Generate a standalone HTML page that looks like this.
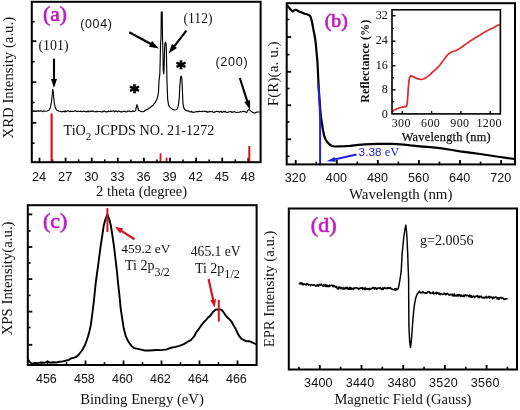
<!DOCTYPE html>
<html><head><meta charset="utf-8"><style>
html,body{margin:0;padding:0;background:#fff;}
body{width:520px;height:410px;overflow:hidden;}
svg{display:block;will-change:transform;filter:blur(0.35px);}
</style></head><body>
<svg width="520" height="410" viewBox="0 0 520 410" font-family='"Liberation Serif", serif'>
<rect width="520" height="410" fill="#fff"/>
<line x1="39.50" y1="162.20" x2="39.50" y2="157.70" stroke="#000" stroke-width="1.8" stroke-linecap="butt"/>
<line x1="65.60" y1="162.20" x2="65.60" y2="157.70" stroke="#000" stroke-width="1.8" stroke-linecap="butt"/>
<line x1="91.70" y1="162.20" x2="91.70" y2="157.70" stroke="#000" stroke-width="1.8" stroke-linecap="butt"/>
<line x1="117.80" y1="162.20" x2="117.80" y2="157.70" stroke="#000" stroke-width="1.8" stroke-linecap="butt"/>
<line x1="143.90" y1="162.20" x2="143.90" y2="157.70" stroke="#000" stroke-width="1.8" stroke-linecap="butt"/>
<line x1="170.00" y1="162.20" x2="170.00" y2="157.70" stroke="#000" stroke-width="1.8" stroke-linecap="butt"/>
<line x1="196.10" y1="162.20" x2="196.10" y2="157.70" stroke="#000" stroke-width="1.8" stroke-linecap="butt"/>
<line x1="222.20" y1="162.20" x2="222.20" y2="157.70" stroke="#000" stroke-width="1.8" stroke-linecap="butt"/>
<line x1="248.30" y1="162.20" x2="248.30" y2="157.70" stroke="#000" stroke-width="1.8" stroke-linecap="butt"/>
<line x1="52.55" y1="162.20" x2="52.55" y2="159.40" stroke="#000" stroke-width="1.6" stroke-linecap="butt"/>
<line x1="78.65" y1="162.20" x2="78.65" y2="159.40" stroke="#000" stroke-width="1.6" stroke-linecap="butt"/>
<line x1="104.75" y1="162.20" x2="104.75" y2="159.40" stroke="#000" stroke-width="1.6" stroke-linecap="butt"/>
<line x1="130.85" y1="162.20" x2="130.85" y2="159.40" stroke="#000" stroke-width="1.6" stroke-linecap="butt"/>
<line x1="156.95" y1="162.20" x2="156.95" y2="159.40" stroke="#000" stroke-width="1.6" stroke-linecap="butt"/>
<line x1="183.05" y1="162.20" x2="183.05" y2="159.40" stroke="#000" stroke-width="1.6" stroke-linecap="butt"/>
<line x1="209.15" y1="162.20" x2="209.15" y2="159.40" stroke="#000" stroke-width="1.6" stroke-linecap="butt"/>
<line x1="235.25" y1="162.20" x2="235.25" y2="159.40" stroke="#000" stroke-width="1.6" stroke-linecap="butt"/>
<line x1="31.80" y1="41.20" x2="36.30" y2="41.20" stroke="#000" stroke-width="1.8" stroke-linecap="butt"/>
<line x1="31.80" y1="82.20" x2="36.30" y2="82.20" stroke="#000" stroke-width="1.8" stroke-linecap="butt"/>
<line x1="31.80" y1="122.80" x2="36.30" y2="122.80" stroke="#000" stroke-width="1.8" stroke-linecap="butt"/>
<line x1="31.80" y1="21.70" x2="34.60" y2="21.70" stroke="#000" stroke-width="1.6" stroke-linecap="butt"/>
<line x1="31.80" y1="61.70" x2="34.60" y2="61.70" stroke="#000" stroke-width="1.6" stroke-linecap="butt"/>
<line x1="31.80" y1="102.50" x2="34.60" y2="102.50" stroke="#000" stroke-width="1.6" stroke-linecap="butt"/>
<line x1="31.80" y1="143.20" x2="34.60" y2="143.20" stroke="#000" stroke-width="1.6" stroke-linecap="butt"/>
<line x1="51.60" y1="113.50" x2="51.60" y2="162.20" stroke="#d8141e" stroke-width="2.2" stroke-linecap="butt"/>
<line x1="160.50" y1="153.30" x2="160.50" y2="162.20" stroke="#d8141e" stroke-width="1.8" stroke-linecap="butt"/>
<line x1="166.60" y1="157.50" x2="166.60" y2="162.20" stroke="#d8141e" stroke-width="1.8" stroke-linecap="butt"/>
<line x1="249.30" y1="145.90" x2="249.30" y2="162.20" stroke="#d8141e" stroke-width="2.0" stroke-linecap="butt"/>
<polyline points="32.50,111.09 33.30,110.88 34.10,111.49 34.90,110.79 35.70,111.35 36.50,111.15 37.30,110.78 38.10,111.32 38.90,110.76 39.70,111.24 40.50,110.80 41.30,110.83 42.10,111.23 42.90,111.71 43.70,110.87 44.50,110.99 45.00,111.30 47.00,111.00 49.00,110.20 50.30,107.80 51.30,103.00 52.00,97.00 52.50,91.50 52.80,89.40 53.20,91.50 53.70,97.00 54.30,103.00 55.30,107.50 56.50,110.00 58.50,111.10 60.00,111.30 61.00,111.51 61.80,111.90 62.60,111.45 63.40,111.24 64.20,111.94 65.00,110.82 65.80,111.80 66.60,111.12 67.40,110.94 68.20,110.91 69.00,111.14 69.80,111.75 70.60,110.99 71.40,111.48 72.20,111.55 73.00,111.23 73.80,111.44 74.60,110.86 75.40,110.86 76.20,111.04 77.00,111.61 77.80,111.30 78.60,111.17 79.40,111.50 80.20,111.34 81.00,111.16 81.80,111.75 82.60,111.64 83.40,111.10 84.20,111.49 85.00,111.44 85.80,111.86 86.60,111.68 87.40,111.16 88.20,111.99 89.00,110.96 89.80,111.32 90.60,111.73 91.40,111.00 92.20,111.41 93.00,110.87 93.80,111.63 94.60,111.74 95.40,111.51 96.20,111.88 97.00,111.21 97.80,111.67 98.60,111.55 99.40,111.53 100.20,111.38 101.00,111.85 101.80,111.97 102.60,111.41 103.40,111.64 104.20,110.92 105.00,111.69 105.80,111.62 106.60,112.04 107.40,111.84 108.20,111.19 109.00,111.32 109.80,111.66 110.60,110.88 111.40,111.41 112.20,111.06 113.00,111.00 113.80,110.93 114.60,111.79 115.40,111.02 116.20,111.17 117.00,111.34 117.80,111.92 118.60,110.97 119.40,111.41 120.20,111.54 121.00,111.94 121.80,111.86 122.60,111.92 123.40,111.22 124.20,111.38 125.00,111.32 125.80,111.95 126.60,112.04 127.40,111.07 128.20,111.10 129.00,111.17 129.80,111.18 130.60,111.48 131.40,111.61 132.20,111.22 133.00,110.91 133.80,111.41 134.60,111.35 135.50,110.60 136.40,107.00 137.00,104.60 137.70,107.00 138.60,110.40 140.00,111.00 141.00,111.56 142.00,111.79 143.00,111.64 144.00,111.53 145.00,110.40 147.50,109.30 150.50,107.30 153.00,105.20 154.90,102.90 156.50,100.00 157.60,97.40 158.50,92.00 159.00,81.00 159.80,74.40 160.20,60.00 160.50,45.00 161.00,38.00 161.30,12.00 162.20,12.00 162.50,38.00 163.00,55.00 163.20,70.00 163.80,74.00 164.30,62.00 164.60,49.00 165.00,43.00 165.60,42.40 166.10,44.00 166.40,50.00 166.60,62.00 166.90,78.00 167.30,90.00 167.70,99.60 168.60,105.10 170.00,107.40 171.30,108.40 173.00,109.60 174.60,110.00 176.00,109.80 177.30,108.90 178.40,105.10 179.30,97.40 179.80,86.40 180.50,77.70 181.10,76.00 181.80,78.00 182.20,85.40 182.60,95.00 182.90,102.90 183.70,107.50 184.50,109.50 186.50,110.60 188.90,111.10 190.00,111.96 190.80,112.03 191.60,111.28 192.40,112.30 193.20,112.16 194.00,112.27 194.80,112.18 195.60,111.70 196.40,111.71 197.20,111.35 198.00,111.99 198.80,111.31 199.60,111.32 200.40,111.49 201.20,111.43 202.00,111.65 202.80,111.30 203.60,111.24 204.40,111.43 205.20,111.37 206.00,111.68 206.80,111.28 207.60,112.30 208.40,111.99 209.20,111.43 210.00,111.56 210.80,111.67 211.60,111.70 212.40,111.41 213.20,112.28 214.00,112.46 214.80,111.82 215.60,111.85 216.40,111.37 217.20,111.39 218.00,111.68 218.80,111.59 219.60,112.27 220.40,111.47 221.20,111.31 222.00,112.42 222.80,111.92 223.60,111.46 224.40,111.94 225.20,111.32 226.00,111.92 226.80,112.46 227.60,112.33 228.40,112.13 229.20,111.61 230.00,111.74 230.80,111.50 231.60,112.23 232.40,111.94 233.20,112.24 234.00,111.70 234.80,111.57 235.60,112.28 236.40,112.49 237.20,112.33 238.00,112.28 238.80,112.30 239.60,112.20 240.40,111.59 241.20,111.94 242.00,111.75 242.80,111.36 243.60,111.36 244.40,111.66 245.20,111.64 246.00,112.16 246.80,112.48 247.50,111.00 248.50,109.80 249.40,109.60 250.30,110.60 251.50,111.50 252.50,112.28 253.50,112.87 254.50,112.93 255.50,112.89 256.50,112.19 257.50,112.02 258.50,112.03 259.50,111.99" fill="none" stroke="#000" stroke-width="1.15" stroke-linejoin="round" stroke-linecap="round" />
<rect x="31.80" y="1.80" width="228.80" height="160.40" fill="none" stroke="#000" stroke-width="2"/>
<line x1="54.00" y1="58.70" x2="54.00" y2="80.00" stroke="#000" stroke-width="2.1" stroke-linecap="butt"/>
<polygon points="54.00,88.00 51.00,79.00 57.00,79.00" fill="#000"/>
<line x1="129.30" y1="32.20" x2="151.35" y2="44.31" stroke="#000" stroke-width="2.2" stroke-linecap="butt"/>
<polygon points="158.80,48.40 148.91,46.68 152.04,40.98" fill="#000"/>
<line x1="186.40" y1="30.70" x2="173.82" y2="46.89" stroke="#000" stroke-width="2.2" stroke-linecap="butt"/>
<polygon points="168.60,53.60 171.86,44.10 177.00,48.09" fill="#000"/>
<line x1="239.80" y1="78.00" x2="247.50" y2="101.91" stroke="#000" stroke-width="2.1" stroke-linecap="butt"/>
<polygon points="250.10,110.00 244.33,101.88 250.04,100.04" fill="#000"/>
<line x1="181.00" y1="60.30" x2="181.00" y2="69.30" stroke="#000" stroke-width="2.8" stroke-linecap="butt"/>
<line x1="176.50" y1="62.70" x2="185.50" y2="66.90" stroke="#000" stroke-width="2.4" stroke-linecap="butt"/>
<line x1="176.50" y1="66.90" x2="185.50" y2="62.70" stroke="#000" stroke-width="2.4" stroke-linecap="butt"/>
<line x1="134.50" y1="84.30" x2="134.50" y2="93.30" stroke="#000" stroke-width="2.8" stroke-linecap="butt"/>
<line x1="130.00" y1="86.70" x2="139.00" y2="90.90" stroke="#000" stroke-width="2.4" stroke-linecap="butt"/>
<line x1="130.00" y1="90.90" x2="139.00" y2="86.70" stroke="#000" stroke-width="2.4" stroke-linecap="butt"/>
<text x="55.00" y="20.60" font-size="21.5" text-anchor="middle" fill="#c01cc0" font-weight="normal" stroke="#c01cc0" stroke-width="0.7">(a)</text>
<text x="96.40" y="28.20" font-size="12.4" text-anchor="middle" fill="#111" font-weight="normal" font-family="Liberation Sans, sans-serif" letter-spacing="0.7">(004)</text>
<text x="53.50" y="50.40" font-size="13.9" text-anchor="middle" fill="#111" font-weight="normal" >(101)</text>
<text x="198.00" y="23.20" font-size="13.6" text-anchor="middle" fill="#111" font-weight="normal" >(112)</text>
<text x="231.90" y="66.40" font-size="12.6" text-anchor="middle" fill="#111" font-weight="normal" font-family="Liberation Sans, sans-serif" letter-spacing="0.7">(200)</text>
<text x="63.50" y="135.00" font-size="14.2" text-anchor="start" fill="#111" font-weight="normal" >TiO<tspan font-size="11" dy="4.5">2</tspan><tspan dy="-4.5"> JCPDS NO. 21-1272</tspan></text>
<text x="39.10" y="180.60" font-size="12.8" text-anchor="middle" fill="#111" font-weight="normal" font-family="Liberation Sans, sans-serif">24</text>
<text x="65.20" y="180.60" font-size="12.8" text-anchor="middle" fill="#111" font-weight="normal" font-family="Liberation Sans, sans-serif">27</text>
<text x="91.30" y="180.60" font-size="12.8" text-anchor="middle" fill="#111" font-weight="normal" font-family="Liberation Sans, sans-serif">30</text>
<text x="117.40" y="180.60" font-size="12.8" text-anchor="middle" fill="#111" font-weight="normal" font-family="Liberation Sans, sans-serif">33</text>
<text x="143.50" y="180.60" font-size="12.8" text-anchor="middle" fill="#111" font-weight="normal" font-family="Liberation Sans, sans-serif">36</text>
<text x="169.60" y="180.60" font-size="12.8" text-anchor="middle" fill="#111" font-weight="normal" font-family="Liberation Sans, sans-serif">39</text>
<text x="195.70" y="180.60" font-size="12.8" text-anchor="middle" fill="#111" font-weight="normal" font-family="Liberation Sans, sans-serif">42</text>
<text x="221.80" y="180.60" font-size="12.8" text-anchor="middle" fill="#111" font-weight="normal" font-family="Liberation Sans, sans-serif">45</text>
<text x="247.90" y="180.60" font-size="12.8" text-anchor="middle" fill="#111" font-weight="normal" font-family="Liberation Sans, sans-serif">48</text>
<text x="141.50" y="196.30" font-size="14.5" text-anchor="middle" fill="#111" font-weight="normal" >2 theta (degree)</text>
<text transform="translate(13.30,77.70) rotate(-90)" x="0" y="0" font-size="14.8" text-anchor="middle" fill="#111" font-weight="normal">XRD Intensity (a.u.)</text>
<line x1="295.70" y1="164.40" x2="295.70" y2="159.90" stroke="#000" stroke-width="1.8" stroke-linecap="butt"/>
<line x1="336.78" y1="164.40" x2="336.78" y2="159.90" stroke="#000" stroke-width="1.8" stroke-linecap="butt"/>
<line x1="377.86" y1="164.40" x2="377.86" y2="159.90" stroke="#000" stroke-width="1.8" stroke-linecap="butt"/>
<line x1="418.94" y1="164.40" x2="418.94" y2="159.90" stroke="#000" stroke-width="1.8" stroke-linecap="butt"/>
<line x1="460.02" y1="164.40" x2="460.02" y2="159.90" stroke="#000" stroke-width="1.8" stroke-linecap="butt"/>
<line x1="501.10" y1="164.40" x2="501.10" y2="159.90" stroke="#000" stroke-width="1.8" stroke-linecap="butt"/>
<line x1="316.24" y1="164.40" x2="316.24" y2="161.60" stroke="#000" stroke-width="1.6" stroke-linecap="butt"/>
<line x1="357.32" y1="164.40" x2="357.32" y2="161.60" stroke="#000" stroke-width="1.6" stroke-linecap="butt"/>
<line x1="398.40" y1="164.40" x2="398.40" y2="161.60" stroke="#000" stroke-width="1.6" stroke-linecap="butt"/>
<line x1="439.48" y1="164.40" x2="439.48" y2="161.60" stroke="#000" stroke-width="1.6" stroke-linecap="butt"/>
<line x1="480.56" y1="164.40" x2="480.56" y2="161.60" stroke="#000" stroke-width="1.6" stroke-linecap="butt"/>
<line x1="286.70" y1="37.10" x2="291.20" y2="37.10" stroke="#000" stroke-width="1.8" stroke-linecap="butt"/>
<line x1="286.70" y1="71.80" x2="291.20" y2="71.80" stroke="#000" stroke-width="1.8" stroke-linecap="butt"/>
<line x1="286.70" y1="105.30" x2="291.20" y2="105.30" stroke="#000" stroke-width="1.8" stroke-linecap="butt"/>
<line x1="286.70" y1="139.30" x2="291.20" y2="139.30" stroke="#000" stroke-width="1.8" stroke-linecap="butt"/>
<line x1="286.70" y1="19.50" x2="289.50" y2="19.50" stroke="#000" stroke-width="1.6" stroke-linecap="butt"/>
<line x1="286.70" y1="54.60" x2="289.50" y2="54.60" stroke="#000" stroke-width="1.6" stroke-linecap="butt"/>
<line x1="286.70" y1="88.50" x2="289.50" y2="88.50" stroke="#000" stroke-width="1.6" stroke-linecap="butt"/>
<line x1="286.70" y1="122.00" x2="289.50" y2="122.00" stroke="#000" stroke-width="1.6" stroke-linecap="butt"/>
<line x1="286.70" y1="156.30" x2="289.50" y2="156.30" stroke="#000" stroke-width="1.6" stroke-linecap="butt"/>
<polyline points="287.20,5.50 289.00,7.50 291.00,10.00 292.80,11.50 294.20,10.30 295.70,9.80 297.50,10.60 299.60,11.70 302.00,12.60 304.50,13.70 307.00,14.30 309.40,15.20 310.60,16.80 311.40,19.50 312.40,24.00 313.30,29.00 314.30,34.00 315.20,39.00 316.00,46.00 316.60,52.70 317.30,60.00 317.80,68.30 318.30,80.00 319.20,95.00 320.30,110.00 321.10,118.00 322.00,124.00 323.00,130.00 324.10,135.50 325.60,139.50 327.60,142.50 329.50,144.50 331.90,146.00 335.00,146.50 340.00,146.40 345.00,146.20 350.00,145.80 358.50,144.80 365.00,144.30 377.70,143.80 390.00,143.90 397.00,144.20 404.00,144.60 410.40,145.40 420.00,146.30 430.00,147.20 440.00,148.20 452.00,150.00 460.00,151.30 470.00,152.60 480.00,154.00 490.00,155.50 500.00,157.00 508.00,158.20 514.50,159.00" fill="none" stroke="#000" stroke-width="2.2" stroke-linejoin="round" stroke-linecap="round" />
<polyline points="318.30,84.00 319.60,105.00 320.10,120.00 320.10,164.40" fill="none" stroke="#2323d0" stroke-width="2.0" stroke-linejoin="round" stroke-linecap="round" />
<line x1="356.50" y1="154.60" x2="334.31" y2="159.56" stroke="#2323d0" stroke-width="2.0" stroke-linecap="butt"/>
<polygon points="326.50,161.30 334.74,156.90 335.83,161.78" fill="#2323d0"/>
<rect x="286.70" y="3.20" width="228.30" height="161.20" fill="none" stroke="#000" stroke-width="2"/>
<text x="336.30" y="27.00" font-size="19.8" text-anchor="middle" fill="#c01cc0" font-weight="normal" stroke="#c01cc0" stroke-width="0.7">(b)</text>
<text x="358.60" y="155.80" font-size="11.8" text-anchor="start" fill="#2323d0" font-weight="normal" font-family="Liberation Sans, sans-serif">3.38<tspan font-family='"Liberation Serif", serif' font-size="12.6"> eV</tspan></text>
<text x="295.40" y="182.30" font-size="12.6" text-anchor="middle" fill="#111" font-weight="normal" font-family="Liberation Sans, sans-serif" letter-spacing="0.1">320</text>
<text x="336.48" y="182.30" font-size="12.6" text-anchor="middle" fill="#111" font-weight="normal" font-family="Liberation Sans, sans-serif" letter-spacing="0.1">400</text>
<text x="377.56" y="182.30" font-size="12.6" text-anchor="middle" fill="#111" font-weight="normal" font-family="Liberation Sans, sans-serif" letter-spacing="0.1">480</text>
<text x="418.64" y="182.30" font-size="12.6" text-anchor="middle" fill="#111" font-weight="normal" font-family="Liberation Sans, sans-serif" letter-spacing="0.1">560</text>
<text x="459.72" y="182.30" font-size="12.6" text-anchor="middle" fill="#111" font-weight="normal" font-family="Liberation Sans, sans-serif" letter-spacing="0.1">640</text>
<text x="500.80" y="182.30" font-size="12.6" text-anchor="middle" fill="#111" font-weight="normal" font-family="Liberation Sans, sans-serif" letter-spacing="0.1">720</text>
<text x="400.70" y="198.90" font-size="14.9" text-anchor="middle" fill="#111" font-weight="normal" >Wavelength (nm)</text>
<text transform="translate(277.60,73.80) rotate(-90)" x="0" y="0" font-size="15.3" text-anchor="middle" fill="#111" font-weight="normal">F(R)(a. u.)</text>
<line x1="392.00" y1="15.70" x2="395.50" y2="15.70" stroke="#000" stroke-width="1.4" stroke-linecap="butt"/>
<line x1="392.00" y1="41.20" x2="395.50" y2="41.20" stroke="#000" stroke-width="1.4" stroke-linecap="butt"/>
<line x1="392.00" y1="65.75" x2="395.50" y2="65.75" stroke="#000" stroke-width="1.4" stroke-linecap="butt"/>
<line x1="392.00" y1="89.80" x2="395.50" y2="89.80" stroke="#000" stroke-width="1.4" stroke-linecap="butt"/>
<line x1="392.00" y1="28.50" x2="394.20" y2="28.50" stroke="#000" stroke-width="1.2" stroke-linecap="butt"/>
<line x1="392.00" y1="53.50" x2="394.20" y2="53.50" stroke="#000" stroke-width="1.2" stroke-linecap="butt"/>
<line x1="392.00" y1="77.80" x2="394.20" y2="77.80" stroke="#000" stroke-width="1.2" stroke-linecap="butt"/>
<line x1="392.00" y1="101.70" x2="394.20" y2="101.70" stroke="#000" stroke-width="1.2" stroke-linecap="butt"/>
<line x1="402.30" y1="113.90" x2="402.30" y2="111.10" stroke="#000" stroke-width="1.4" stroke-linecap="butt"/>
<line x1="431.61" y1="113.90" x2="431.61" y2="111.10" stroke="#000" stroke-width="1.4" stroke-linecap="butt"/>
<line x1="460.92" y1="113.90" x2="460.92" y2="111.10" stroke="#000" stroke-width="1.4" stroke-linecap="butt"/>
<line x1="490.23" y1="113.90" x2="490.23" y2="111.10" stroke="#000" stroke-width="1.4" stroke-linecap="butt"/>
<polyline points="392.60,111.20 394.50,110.00 396.60,108.90 399.00,108.00 401.60,107.20 404.00,106.80 406.40,106.40 407.20,103.50 407.80,96.00 408.30,88.00 409.00,81.00 409.70,77.20 410.70,75.70 412.50,76.40 414.90,77.40 418.00,78.90 421.50,79.50 424.00,78.80 426.50,77.40 430.00,74.60 433.10,71.60 436.50,68.60 440.00,65.00 443.40,60.20 447.50,54.90 450.00,52.90 452.00,51.80 454.50,51.00 457.10,50.10 462.20,46.70 466.50,43.60 470.70,40.70 475.00,38.10 479.30,35.60 482.70,33.30 486.10,31.30 489.50,29.50 492.90,27.90 496.40,26.10 499.80,24.50" fill="none" stroke="#e0282e" stroke-width="1.7" stroke-linejoin="round" stroke-linecap="round" />
<rect x="392.00" y="9.80" width="108.40" height="104.10" fill="none" stroke="#000" stroke-width="1.6"/>
<text x="387.90" y="18.90" font-size="12.2" text-anchor="end" fill="#111" font-weight="normal" >32</text>
<text x="387.90" y="43.60" font-size="12.2" text-anchor="end" fill="#111" font-weight="normal" >24</text>
<text x="387.90" y="68.50" font-size="12.2" text-anchor="end" fill="#111" font-weight="normal" >16</text>
<text x="387.90" y="92.60" font-size="12.2" text-anchor="end" fill="#111" font-weight="normal" >8</text>
<text x="387.90" y="118.40" font-size="12.2" text-anchor="end" fill="#111" font-weight="normal" >0</text>
<text x="401.30" y="126.50" font-size="12.0" text-anchor="middle" fill="#111" font-weight="normal" letter-spacing="0.4">300</text>
<text x="430.61" y="126.50" font-size="12.0" text-anchor="middle" fill="#111" font-weight="normal" letter-spacing="0.4">600</text>
<text x="459.92" y="126.50" font-size="12.0" text-anchor="middle" fill="#111" font-weight="normal" letter-spacing="0.4">900</text>
<text x="489.23" y="126.50" font-size="12.0" text-anchor="middle" fill="#111" font-weight="normal" letter-spacing="0.4">1200</text>
<text x="446.30" y="141.30" font-size="12.3" text-anchor="middle" fill="#111" font-weight="normal" letter-spacing="0.25" stroke="#111" stroke-width="0.25">Wavelength (nm)</text>
<text transform="translate(368.60,61.30) rotate(-90)" x="0" y="0" font-size="12.1" text-anchor="middle" fill="#111" font-weight="bold">Reflectance (%)</text>
<line x1="47.50" y1="365.00" x2="47.50" y2="360.50" stroke="#000" stroke-width="1.8" stroke-linecap="butt"/>
<line x1="85.50" y1="365.00" x2="85.50" y2="360.50" stroke="#000" stroke-width="1.8" stroke-linecap="butt"/>
<line x1="123.50" y1="365.00" x2="123.50" y2="360.50" stroke="#000" stroke-width="1.8" stroke-linecap="butt"/>
<line x1="161.50" y1="365.00" x2="161.50" y2="360.50" stroke="#000" stroke-width="1.8" stroke-linecap="butt"/>
<line x1="199.50" y1="365.00" x2="199.50" y2="360.50" stroke="#000" stroke-width="1.8" stroke-linecap="butt"/>
<line x1="237.50" y1="365.00" x2="237.50" y2="360.50" stroke="#000" stroke-width="1.8" stroke-linecap="butt"/>
<line x1="66.50" y1="365.00" x2="66.50" y2="362.20" stroke="#000" stroke-width="1.6" stroke-linecap="butt"/>
<line x1="104.50" y1="365.00" x2="104.50" y2="362.20" stroke="#000" stroke-width="1.6" stroke-linecap="butt"/>
<line x1="142.50" y1="365.00" x2="142.50" y2="362.20" stroke="#000" stroke-width="1.6" stroke-linecap="butt"/>
<line x1="180.50" y1="365.00" x2="180.50" y2="362.20" stroke="#000" stroke-width="1.6" stroke-linecap="butt"/>
<line x1="218.50" y1="365.00" x2="218.50" y2="362.20" stroke="#000" stroke-width="1.6" stroke-linecap="butt"/>
<line x1="27.80" y1="214.40" x2="32.30" y2="214.40" stroke="#000" stroke-width="1.8" stroke-linecap="butt"/>
<line x1="27.80" y1="247.00" x2="32.30" y2="247.00" stroke="#000" stroke-width="1.8" stroke-linecap="butt"/>
<line x1="27.80" y1="279.10" x2="32.30" y2="279.10" stroke="#000" stroke-width="1.8" stroke-linecap="butt"/>
<line x1="27.80" y1="311.60" x2="32.30" y2="311.60" stroke="#000" stroke-width="1.8" stroke-linecap="butt"/>
<line x1="27.80" y1="344.80" x2="32.30" y2="344.80" stroke="#000" stroke-width="1.8" stroke-linecap="butt"/>
<line x1="27.80" y1="231.00" x2="30.60" y2="231.00" stroke="#000" stroke-width="1.6" stroke-linecap="butt"/>
<line x1="27.80" y1="263.00" x2="30.60" y2="263.00" stroke="#000" stroke-width="1.6" stroke-linecap="butt"/>
<line x1="27.80" y1="295.40" x2="30.60" y2="295.40" stroke="#000" stroke-width="1.6" stroke-linecap="butt"/>
<line x1="27.80" y1="327.50" x2="30.60" y2="327.50" stroke="#000" stroke-width="1.6" stroke-linecap="butt"/>
<polyline points="28.50,360.29 30.00,362.29 32.20,363.88 35.00,362.94 38.00,363.19 41.00,362.51 44.40,362.81 47.50,361.51 50.00,362.71 53.00,362.29 56.60,362.50 59.50,361.68 62.00,361.58 66.30,360.47 69.00,359.80 71.00,358.38 74.00,357.71 76.10,356.93 78.50,354.93 80.00,353.00 82.00,350.50 83.40,348.00 85.00,345.00 86.50,341.00 88.00,336.50 89.50,331.00 90.60,326.00 91.50,320.00 92.40,313.00 93.20,306.60 94.00,300.00 94.80,292.00 95.60,284.00 96.40,278.00 97.20,272.00 97.90,267.20 99.20,257.00 100.60,246.50 102.20,236.00 103.70,225.70 105.50,219.00 107.40,214.30 109.20,219.00 110.90,225.70 112.50,236.00 114.00,246.50 115.60,260.00 116.80,270.00 118.20,284.40 119.50,296.00 120.70,308.80 122.20,318.50 123.70,328.30 125.60,335.60 127.50,340.00 129.30,343.00 131.50,345.93 134.10,348.11 139.00,349.16 145.10,350.57 150.00,350.54 156.30,350.06 161.00,350.08 166.90,349.41 171.00,347.75 175.40,346.93 179.50,345.84 183.80,344.11 187.50,341.90 191.30,339.73 194.40,336.24 196.00,332.66 197.60,330.53 200.80,326.10 203.50,322.52 206.10,319.90 208.20,317.45 210.30,315.66 213.50,311.43 215.50,309.80 217.70,309.33 219.80,309.46 221.90,309.92 224.00,313.06 226.20,316.23 228.50,318.44 231.40,321.44 233.50,325.29 235.70,329.00 237.30,332.47 238.90,335.56 241.50,338.78 244.10,340.24 246.80,341.29 249.40,341.20 252.00,342.30 255.60,344.00" fill="none" stroke="#000" stroke-width="1.9" stroke-linejoin="round" stroke-linecap="round" />
<rect x="27.80" y="205.20" width="228.80" height="159.80" fill="none" stroke="#000" stroke-width="2"/>
<line x1="107.40" y1="208.10" x2="107.40" y2="232.00" stroke="#d8141e" stroke-width="2.0" stroke-linecap="butt"/>
<line x1="134.50" y1="239.20" x2="120.91" y2="230.56" stroke="#d8141e" stroke-width="2.2" stroke-linecap="butt"/>
<polygon points="115.00,226.80 123.36,228.56 120.14,233.62" fill="#d8141e"/>
<line x1="218.80" y1="299.80" x2="218.80" y2="321.70" stroke="#d8141e" stroke-width="2.0" stroke-linecap="butt"/>
<line x1="208.60" y1="278.90" x2="213.32" y2="300.66" stroke="#d8141e" stroke-width="2.2" stroke-linecap="butt"/>
<polygon points="214.80,307.50 210.17,300.32 216.04,299.05" fill="#d8141e"/>
<text x="55.10" y="228.00" font-size="22" text-anchor="middle" fill="#c01cc0" font-weight="normal" stroke="#c01cc0" stroke-width="0.7">(c)</text>
<text x="121.30" y="252.60" font-size="13.4" text-anchor="start" fill="#111" font-weight="normal" >459.2 eV</text>
<text x="125.00" y="270.30" font-size="14" text-anchor="start" fill="#111" font-weight="normal" >Ti 2p<tspan font-size="12" dy="5.3">3/2</tspan></text>
<text x="190.80" y="256.00" font-size="13.6" text-anchor="start" fill="#111" font-weight="normal" >465.1 eV</text>
<text x="194.90" y="273.40" font-size="14" text-anchor="start" fill="#111" font-weight="normal" >Ti 2p<tspan font-size="12.2" dy="4.6">1/2</tspan></text>
<text x="46.40" y="383.10" font-size="12.5" text-anchor="middle" fill="#111" font-weight="normal" font-family="Liberation Sans, sans-serif">456</text>
<text x="84.40" y="383.10" font-size="12.5" text-anchor="middle" fill="#111" font-weight="normal" font-family="Liberation Sans, sans-serif">458</text>
<text x="122.40" y="383.10" font-size="12.5" text-anchor="middle" fill="#111" font-weight="normal" font-family="Liberation Sans, sans-serif">460</text>
<text x="160.40" y="383.10" font-size="12.5" text-anchor="middle" fill="#111" font-weight="normal" font-family="Liberation Sans, sans-serif">462</text>
<text x="198.40" y="383.10" font-size="12.5" text-anchor="middle" fill="#111" font-weight="normal" font-family="Liberation Sans, sans-serif">464</text>
<text x="236.40" y="383.10" font-size="12.5" text-anchor="middle" fill="#111" font-weight="normal" font-family="Liberation Sans, sans-serif">466</text>
<text x="142.00" y="403.50" font-size="14.7" text-anchor="middle" fill="#111" font-weight="normal" >Binding Energy (eV)</text>
<text transform="translate(12.00,278.40) rotate(-90)" x="0" y="0" font-size="14.8" text-anchor="middle" fill="#111" font-weight="normal">XPS Intensity(a.u.)</text>
<line x1="319.80" y1="369.50" x2="319.80" y2="365.00" stroke="#000" stroke-width="1.8" stroke-linecap="butt"/>
<line x1="361.50" y1="369.50" x2="361.50" y2="365.00" stroke="#000" stroke-width="1.8" stroke-linecap="butt"/>
<line x1="403.20" y1="369.50" x2="403.20" y2="365.00" stroke="#000" stroke-width="1.8" stroke-linecap="butt"/>
<line x1="444.90" y1="369.50" x2="444.90" y2="365.00" stroke="#000" stroke-width="1.8" stroke-linecap="butt"/>
<line x1="486.60" y1="369.50" x2="486.60" y2="365.00" stroke="#000" stroke-width="1.8" stroke-linecap="butt"/>
<line x1="298.95" y1="369.50" x2="298.95" y2="366.70" stroke="#000" stroke-width="1.6" stroke-linecap="butt"/>
<line x1="340.65" y1="369.50" x2="340.65" y2="366.70" stroke="#000" stroke-width="1.6" stroke-linecap="butt"/>
<line x1="382.35" y1="369.50" x2="382.35" y2="366.70" stroke="#000" stroke-width="1.6" stroke-linecap="butt"/>
<line x1="424.05" y1="369.50" x2="424.05" y2="366.70" stroke="#000" stroke-width="1.6" stroke-linecap="butt"/>
<line x1="465.75" y1="369.50" x2="465.75" y2="366.70" stroke="#000" stroke-width="1.6" stroke-linecap="butt"/>
<line x1="507.45" y1="369.50" x2="507.45" y2="366.70" stroke="#000" stroke-width="1.6" stroke-linecap="butt"/>
<polyline points="299.20,283.87 299.70,283.89 300.20,282.77 300.70,283.78 301.20,283.23 301.70,282.86 302.20,284.73 302.70,283.33 303.20,284.06 303.70,284.68 304.20,284.33 304.70,283.84 305.20,284.32 305.70,284.45 306.20,285.01 306.70,283.49 307.20,284.58 307.70,283.90 308.20,284.00 308.70,285.18 309.20,284.61 309.70,284.78 310.20,285.27 310.70,285.67 311.20,284.63 311.70,285.06 312.20,284.85 312.70,284.90 313.20,285.35 313.70,284.82 314.20,285.03 314.70,284.93 315.20,286.02 315.70,285.49 316.20,285.92 316.70,286.10 317.20,284.55 317.70,285.27 318.20,286.17 318.70,285.96 319.20,284.37 319.70,284.36 320.20,285.12 320.70,284.29 321.20,284.70 321.70,284.34 322.20,285.74 322.70,286.02 323.20,286.31 323.70,284.63 324.20,285.94 324.70,285.84 325.20,284.67 325.70,286.40 326.20,286.62 326.70,284.92 327.20,286.63 327.70,285.38 328.20,285.61 328.70,286.79 329.20,286.45 329.70,284.93 330.20,285.58 330.70,285.80 331.20,285.42 331.70,285.16 332.20,285.60 332.70,286.69 333.20,285.23 333.70,286.62 334.20,286.51 334.70,285.70 335.20,286.58 335.70,287.41 336.20,287.31 336.70,286.43 337.20,288.71 337.70,288.41 338.20,288.99 338.70,287.10 339.20,287.49 339.70,286.99 340.20,288.71 340.70,287.56 341.20,287.25 341.70,287.94 342.20,289.09 342.70,288.90 343.20,287.63 343.70,287.39 344.20,289.18 344.70,288.40 345.20,288.72 345.70,287.33 346.20,287.28 346.70,288.75 347.20,288.16 347.70,287.37 348.20,289.38 348.70,288.70 349.20,289.11 349.70,287.48 350.20,289.27 350.70,287.47 351.20,289.33 351.70,288.40 352.20,288.16 352.70,288.67 353.20,289.55 353.70,288.05 354.20,287.75 354.70,288.69 355.20,288.04 355.70,287.77 356.20,287.91 356.70,287.67 357.20,288.04 357.70,288.31 358.20,288.31 358.70,289.38 359.20,288.32 359.70,288.79 360.20,288.04 360.70,288.42 361.20,287.66 361.70,288.18 362.20,287.63 362.70,289.28 363.20,288.85 363.70,288.01 364.20,288.66 364.70,289.70 365.20,287.79 365.70,289.42 366.20,288.52 366.70,288.66 367.20,289.43 367.70,288.41 368.20,288.66 368.70,289.07 369.20,289.74 369.70,288.26 370.20,289.37 370.70,289.08 371.20,288.90 371.70,288.36 372.20,288.22 372.70,287.54 373.20,287.71 373.70,287.56 374.20,289.09 374.70,287.97 375.20,287.75 375.70,287.56 376.20,289.29 376.70,289.35 377.20,288.88 377.70,287.98 378.20,287.88 378.70,287.99 379.20,288.36 379.70,287.66 380.20,288.31 380.70,287.88 381.20,289.48 381.70,289.50 382.20,288.51 382.70,287.84 383.20,289.53 383.70,288.05 384.20,288.18 384.70,287.40 385.20,288.30 385.70,288.55 386.20,288.64 386.70,287.98 387.20,288.70 387.70,287.59 388.20,288.21 388.70,287.84 389.20,288.58 389.70,287.79 390.20,287.78 390.70,288.45 391.20,288.32 391.70,289.16 392.20,289.06 392.70,289.60 393.20,289.42 393.70,289.58 394.20,289.99 394.70,288.89 395.20,288.77 395.70,290.32 396.20,288.43 396.70,289.78 397.20,289.62 398.30,288.50 399.50,282.30 400.50,276.00 401.20,271.20 401.70,262.00 402.10,254.10 403.00,245.00 403.80,237.00 404.80,230.00 405.80,225.10 406.40,230.00 406.90,237.00 407.30,245.00 407.70,254.00 408.10,266.00 408.60,279.80 408.70,300.00 408.90,324.40 409.30,335.00 409.70,342.00 410.50,347.40 411.20,342.00 411.70,336.00 412.10,331.20 412.70,322.00 413.40,314.10 414.00,308.00 414.60,303.90 415.40,299.50 416.30,296.20 417.50,293.60 418.90,292.00 419.60,291.00 420.10,292.85 420.60,293.01 421.10,292.44 421.60,292.71 422.10,292.93 422.60,291.41 423.10,292.33 423.60,292.32 424.10,293.11 424.60,293.07 425.10,293.15 425.60,292.63 426.10,293.37 426.60,292.92 427.10,292.98 427.60,291.94 428.10,291.52 428.60,291.79 429.10,292.34 429.60,291.79 430.10,293.50 430.60,292.90 431.10,293.09 431.60,293.13 432.10,293.31 432.60,292.91 433.10,291.85 433.60,293.72 434.10,293.66 434.60,293.15 435.10,293.27 435.60,293.60 436.10,292.29 436.60,293.88 437.10,292.82 437.60,292.46 438.10,292.95 438.60,294.06 439.10,292.91 439.60,294.19 440.10,294.78 440.60,293.72 441.10,293.52 441.60,293.79 442.10,294.31 442.60,294.55 443.10,294.25 443.60,294.36 444.10,293.11 444.60,293.32 445.10,293.62 445.60,294.79 446.10,293.83 446.60,294.49 447.10,293.26 447.60,293.42 448.10,293.95 448.60,294.93 449.10,295.02 449.60,295.04 450.10,294.20 450.60,294.77 451.10,294.70 451.60,294.75 452.10,294.00 452.60,295.83 453.10,294.26 453.60,296.09 454.10,296.03 454.60,293.95 455.10,295.00 455.60,295.87 456.10,296.25 456.60,295.09 457.10,294.71 457.60,294.61 458.10,296.34 458.60,294.68 459.10,295.57 459.60,294.59 460.10,295.51 460.60,296.53 461.10,294.68 461.60,296.29 462.10,295.61 462.60,296.52 463.10,296.13 463.60,295.08 464.10,296.65 464.60,295.74 465.10,294.71 465.60,294.70 466.10,295.86 466.60,295.80 467.10,295.49 467.60,295.16 468.10,295.66 468.60,295.63 469.10,296.87 469.60,294.98 470.10,296.74 470.60,296.97 471.10,295.36 471.60,297.25 472.10,296.79 472.60,297.26 473.10,295.89 473.60,296.11 474.10,296.19 474.60,297.61 475.10,296.70 475.60,296.21 476.10,296.39 476.60,296.07 477.10,295.58 477.60,295.74 478.10,297.45 478.60,296.22 479.10,297.75 479.60,296.20 480.10,296.27 480.60,296.86 481.10,296.15 481.60,296.61 482.10,297.98 482.60,297.84 483.10,297.71 483.60,297.32 484.10,298.00 484.60,298.10 485.10,297.23 485.60,297.65 486.10,296.14 486.60,297.74 487.10,297.12 487.60,297.85 488.10,297.63 488.60,296.84 489.10,296.32 489.60,298.37 490.10,296.57 490.60,297.39 491.10,297.12 491.60,297.05 492.10,298.10 492.60,298.67 493.10,297.06 493.60,298.00 494.10,297.21 494.60,297.83 495.10,297.51 495.60,297.05 496.10,297.09 496.60,297.25 497.10,298.91 497.60,298.02 498.10,297.44 498.60,299.08 499.10,299.34 499.60,298.14 500.10,297.48 500.60,297.65 501.10,297.48 501.60,298.11 502.10,297.59 502.60,297.98 503.10,298.08 503.60,298.85 504.10,299.64 504.60,299.38 505.10,298.66 505.60,298.71 506.10,299.02 506.60,298.74 507.10,298.71" fill="none" stroke="#000" stroke-width="1.45" stroke-linejoin="round" stroke-linecap="round" />
<rect x="288.80" y="208.50" width="228.20" height="161.00" fill="none" stroke="#000" stroke-width="2"/>
<text x="323.70" y="231.80" font-size="22" text-anchor="middle" fill="#c01cc0" font-weight="normal" stroke="#c01cc0" stroke-width="0.7">(d)</text>
<text x="420.00" y="244.60" font-size="14" text-anchor="start" fill="#111" font-weight="normal" >g=2.0056</text>
<text x="318.40" y="387.40" font-size="12.6" text-anchor="middle" fill="#111" font-weight="normal" font-family="Liberation Sans, sans-serif" letter-spacing="0.2">3400</text>
<text x="360.10" y="387.40" font-size="12.6" text-anchor="middle" fill="#111" font-weight="normal" font-family="Liberation Sans, sans-serif" letter-spacing="0.2">3440</text>
<text x="401.80" y="387.40" font-size="12.6" text-anchor="middle" fill="#111" font-weight="normal" font-family="Liberation Sans, sans-serif" letter-spacing="0.2">3480</text>
<text x="443.50" y="387.40" font-size="12.6" text-anchor="middle" fill="#111" font-weight="normal" font-family="Liberation Sans, sans-serif" letter-spacing="0.2">3520</text>
<text x="485.20" y="387.40" font-size="12.6" text-anchor="middle" fill="#111" font-weight="normal" font-family="Liberation Sans, sans-serif" letter-spacing="0.2">3560</text>
<text x="402.90" y="404.00" font-size="14.5" text-anchor="middle" fill="#111" font-weight="normal" >Magnetic Field (Gauss)</text>
<text transform="translate(274.20,289.00) rotate(-90)" x="0" y="0" font-size="14.7" text-anchor="middle" fill="#111" font-weight="normal">EPR Intensity (a.u.)</text>
</svg>
</body></html>
